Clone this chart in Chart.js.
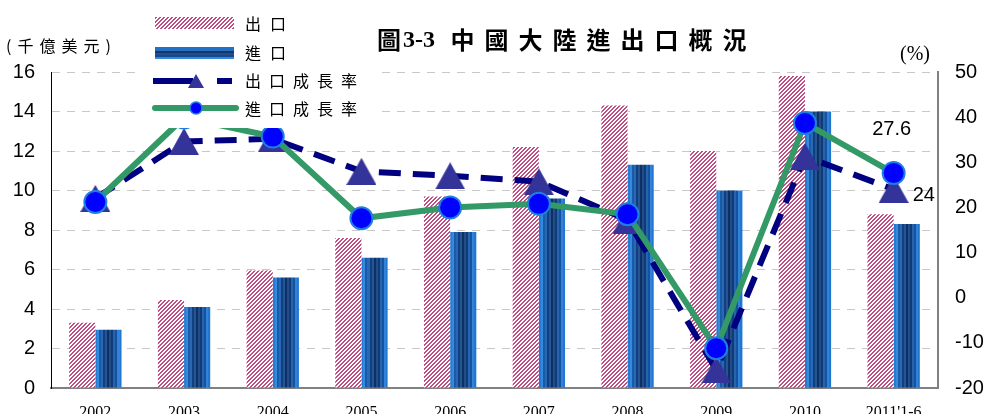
<!DOCTYPE html>
<html>
<head>
<meta charset="utf-8">
<script src="https://cdn.jsdelivr.net/npm/chart.js@4.4.1/dist/chart.umd.min.js"></script>
<style>
  html, body { margin: 0; padding: 0; background: #fff; }
  canvas { display: block; }
</style>
</head>
<body>
<canvas id="chart" width="987" height="414"></canvas>
<script>
// chart data
const categories = ['2002', '2003', '2004', '2005', '2006', '2007', '2008', '2009', '2010', "2011'1-6"];
const seriesNames = ['出口', '進口', '出口成長率', '進口成長率'];
const exportValues = [3.3, 4.45, 5.95, 7.6, 9.7, 12.2, 14.3, 12.0, 15.8, 8.8];
const importValues = [2.95, 4.1, 5.6, 6.6, 7.9, 9.6, 11.3, 10.0, 14.0, 8.3];
const exportGrowth = [22.0, 34.6, 35.2, 28.0, 27.0, 25.7, 17.2, -16.0, 31.3, 24];
const importGrowth = [21.2, 39.9, 35.7, 17.6, 20.0, 20.8, 18.5, -11.2, 38.7, 27.6];
const leftTicks = [0, 16, 2];
const rightTicks = [-20, 50, 10];
const labelledPoints = [{ ds: 2, idx: 9 }, { ds: 3, idx: 9 }];

const TITLE = ['圖', '3-3', ' 中國大陸進出口概況'];
const CAT_PCT = 0.59;
const CJK = '"Noto Sans CJK TC", "Noto Sans CJK SC", sans-serif';

// pink hatch pattern for export bars
function makePinkPattern() {
  const c = document.createElement('canvas');
  c.width = 4; c.height = 4;
  const p = c.getContext('2d');
  p.fillStyle = '#ffffff';
  p.fillRect(0, 0, 4, 4);
  p.fillStyle = '#bd4f84';
  for (let y = 0; y < 4; y++) {
    for (let x = 0; x < 4; x++) {
      if ((x + y) % 4 < 2) p.fillRect(x, y, 1, 1);
    }
  }
  return p.createPattern(c, 'repeat');
}
const pinkPattern = makePinkPattern();

// triangle marker, centred on its bounding box
function makeTriangle(w, h, color) {
  const c = document.createElement('canvas');
  c.width = w; c.height = h;
  const p = c.getContext('2d');
  p.fillStyle = color;
  p.beginPath();
  p.moveTo(w / 2, 0);
  p.lineTo(w, h);
  p.lineTo(0, h);
  p.closePath();
  p.fill();
  return c;
}
const triMarker = makeTriangle(30, 27, '#333399');

// blue striped gradient
const blueStops = [[0, [36, 132, 224]], [0.3, [14, 70, 140]], [0.55, [10, 44, 96]], [0.8, [16, 82, 160]], [1, [34, 128, 222]]];
function blueAt(t) {
  for (let i = 1; i < blueStops.length; i++) {
    if (t <= blueStops[i][0]) {
      const [t0, c0] = blueStops[i - 1];
      const [t1, c1] = blueStops[i];
      const f = (t - t0) / (t1 - t0);
      return c0.map((v, k) => Math.round(v + (c1[k] - v) * f));
    }
  }
  return blueStops[blueStops.length - 1][1];
}
function stripedGradient(ctx, x0, y0, x1, y1, n) {
  const g = ctx.createLinearGradient(x0, y0, x1, y1);
  for (let i = 0; i < n; i++) {
    const t0 = i / n, t1 = (i + 1) / n;
    let c = blueAt((t0 + t1) / 2);
    if (i % 2 === 1) c = c.map(v => Math.min(255, v + 28));
    const s = 'rgb(' + c.join(',') + ')';
    g.addColorStop(t0, s);
    g.addColorStop(t1, s);
  }
  return g;
}
function importFill(context) {
  const chart = context.chart;
  const xs = chart.scales && chart.scales.x;
  if (!xs || context.dataIndex === undefined) return '#0e3f7e';
  const catW = (xs.right - xs.left) / categories.length;
  const barW = catW * CAT_PCT / 2;
  const c = xs.getPixelForValue(context.dataIndex);
  if (!isFinite(c) || !isFinite(barW) || barW <= 0) return '#0e3f7e';
  return stripedGradient(chart.ctx, c, 0, c + barW, 0, 13);
}

// title, axis captions, legend box and point labels
const decorations = {
  id: 'decorations',
  afterDraw(chart) {
    const ctx = chart.ctx;
    ctx.save();

    // legend box (covers what lies below it)
    ctx.fillStyle = '#ffffff';
    ctx.fillRect(137, 0, 239, 128);

    ctx.fillStyle = pinkPattern;
    ctx.fillRect(155, 17, 79, 12);
    ctx.fillStyle = stripedGradient(ctx, 0, 47, 0, 59, 6);
    ctx.fillRect(155, 47, 79, 12);

    ctx.strokeStyle = '#000080';
    ctx.lineWidth = 6;
    ctx.setLineDash([40, 24]);
    ctx.beginPath();
    ctx.moveTo(153, 81);
    ctx.lineTo(232, 81);
    ctx.stroke();
    ctx.setLineDash([]);
    ctx.drawImage(makeTriangle(16, 14, '#333399'), 188, 74);

    ctx.strokeStyle = '#339966';
    ctx.lineCap = 'round';
    ctx.beginPath();
    ctx.moveTo(155, 108);
    ctx.lineTo(236, 108);
    ctx.stroke();
    ctx.lineCap = 'butt';
    ctx.beginPath();
    ctx.arc(196, 108, 6, 0, Math.PI * 2);
    ctx.fillStyle = '#0000ff';
    ctx.fill();
    ctx.lineWidth = 1.5;
    ctx.strokeStyle = '#1e7fe0';
    ctx.stroke();

    ctx.fillStyle = '#000';
    ctx.textBaseline = 'middle';
    ctx.textAlign = 'left';
    ctx.font = '16px ' + CJK;
    ctx.letterSpacing = '9px';
    ctx.fillText(seriesNames[0], 245, 24);
    ctx.fillText(seriesNames[1], 245, 53);
    ctx.letterSpacing = '8px';
    ctx.fillText(seriesNames[2], 245, 81);
    ctx.fillText(seriesNames[3], 245, 109);

    // title
    let x = 377;
    ctx.letterSpacing = '10px';
    ctx.font = 'bold 24px ' + CJK;
    ctx.fillText(TITLE[0], x, 40);
    x += ctx.measureText(TITLE[0]).width - 8;
    ctx.letterSpacing = '0px';
    ctx.font = 'bold 24px "Liberation Serif"';
    ctx.fillText(TITLE[1], x, 41);
    x += ctx.measureText(TITLE[1]).width;
    ctx.letterSpacing = '10px';
    ctx.font = 'bold 24px ' + CJK;
    ctx.fillText(TITLE[2], x, 40);

    // axis captions
    ctx.font = '16px ' + CJK;
    ctx.letterSpacing = '6px';
    ctx.fillText('(千億美元)', 6, 46);
    ctx.letterSpacing = '0px';
    ctx.font = '20px "Liberation Serif"';
    ctx.fillText('(%)', 900, 55);

    // value labels
    ctx.font = '20px "Liberation Sans"';
    ctx.textAlign = 'center';
    const imp = chart.getDatasetMeta(labelledPoints[1].ds).data[labelledPoints[1].idx];
    ctx.fillText(String(importGrowth[labelledPoints[1].idx]), imp.x - 2, imp.y - 44);
    const exp = chart.getDatasetMeta(labelledPoints[0].ds).data[labelledPoints[0].idx];
    ctx.textAlign = 'left';
    ctx.fillText(String(exportGrowth[labelledPoints[0].idx]), exp.x + 19, exp.y + 6);

    ctx.restore();
  }
};

const tickFont = { family: '"Liberation Sans", Arial, sans-serif', size: 20 };

new Chart(document.getElementById('chart'), {
  type: 'bar',
  data: {
    labels: categories,
    datasets: [
      {
        label: seriesNames[0], data: exportValues, yAxisID: 'y',
        backgroundColor: pinkPattern, borderWidth: 0,
        categoryPercentage: CAT_PCT, barPercentage: 1, order: 2
      },
      {
        label: seriesNames[1], data: importValues, yAxisID: 'y',
        backgroundColor: importFill, borderWidth: 0,
        categoryPercentage: CAT_PCT, barPercentage: 1, order: 2
      },
      {
        type: 'line', label: seriesNames[2], data: exportGrowth, yAxisID: 'y1',
        borderColor: '#000080', borderWidth: 6, borderDash: [22, 12],
        pointStyle: triMarker, pointRadius: 14, tension: 0, fill: false, order: 1
      },
      {
        type: 'line', label: seriesNames[3], data: importGrowth, yAxisID: 'y1',
        borderColor: '#339966', borderWidth: 6,
        pointStyle: 'circle', pointRadius: 11,
        pointBackgroundColor: '#0000ff', pointBorderColor: '#1e7fe0', pointBorderWidth: 2,
        tension: 0, fill: false, order: 0
      }
    ]
  },
  options: {
    responsive: false,
    animation: false,
    layout: { padding: { top: 72, left: 0, right: 0, bottom: 0 } },
    plugins: {
      legend: { display: false },
      tooltip: { enabled: false },
      title: { display: false }
    },
    scales: {
      x: {
        grid: { display: false, drawTicks: false },
        border: { color: '#808080', width: 2 },
        ticks: {
          color: '#000', padding: 15, maxRotation: 0, autoSkip: false,
          font: { family: '"Liberation Serif", serif', size: 16 }
        },
        afterFit: s => { s.height = 26; }
      },
      y: {
        position: 'left', min: leftTicks[0], max: leftTicks[1],
        ticks: { stepSize: leftTicks[2], color: '#000', padding: 16, font: tickFont },
        grid: { color: '#c8c8c8', lineWidth: 1, drawTicks: false },
        border: { color: '#000', width: 1, dash: [8, 7] },
        afterFit: s => { s.width = 51; s.paddingTop = 0; s.paddingBottom = 0; }
      },
      y1: {
        position: 'right', min: rightTicks[0], max: rightTicks[1],
        ticks: { stepSize: rightTicks[2], color: '#000', padding: 17, font: tickFont },
        grid: { display: false, drawTicks: false },
        border: { color: '#808080', width: 2 },
        afterFit: s => { s.width = 49; s.paddingTop = 0; s.paddingBottom = 0; }
      }
    }
  },
  plugins: [decorations]
});
</script>
</body>
</html>
